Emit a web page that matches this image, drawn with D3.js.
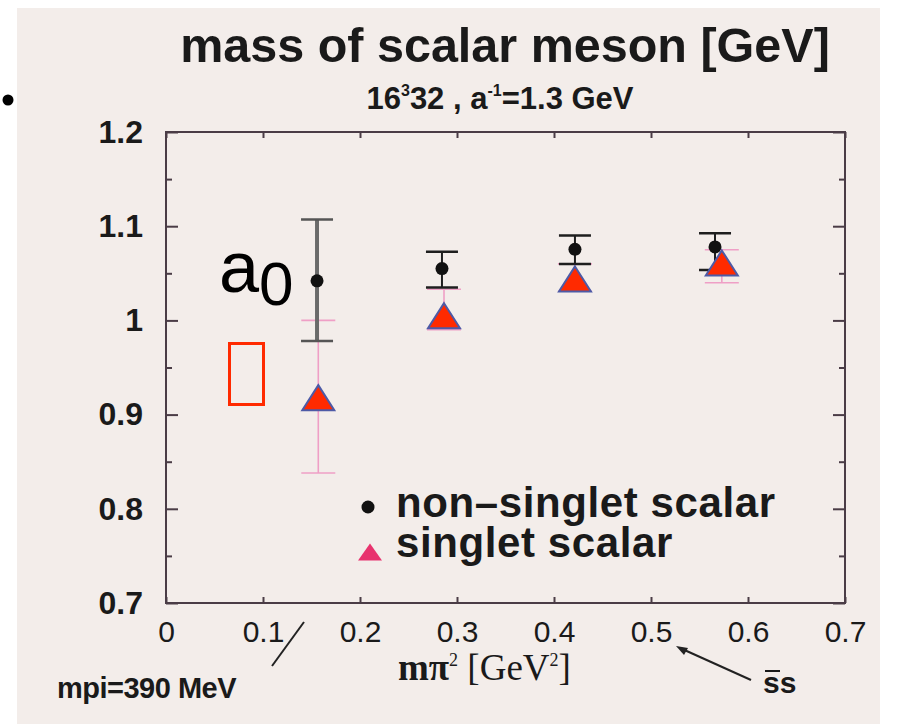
<!DOCTYPE html>
<html>
<head>
<meta charset="utf-8">
<script src="https://cdn.jsdelivr.net/npm/d3@7"></script>
<style>
  body { margin: 0; background: #fff; }
  svg { display: block; }
</style>
</head>
<body>
<svg id="chart" width="899" height="724"></svg>
<script>
// axis ticks
const xTicks = [0, 0.1, 0.2, 0.3, 0.4, 0.5, 0.6, 0.7];
const xTickLabels = ['0', '0.1', '0.2', '0.3', '0.4', '0.5', '0.6', '0.7'];
const yTicks = [0.7, 0.8, 0.9, 1.0, 1.1, 1.2];
const yTickLabels = ['0.7', '0.8', '0.9', '1', '1.1', '1.2'];
const yMinorTicks = [0.75, 0.85, 0.95, 1.05, 1.15];

// non-singlet scalar (black dots)
const nonSingletX = [0.1557, 0.2845, 0.4216, 0.566];
const nonSingletMass = [1.042, 1.055, 1.0755, 1.078];
const nonSingletHi = [1.107, 1.073, 1.090, 1.0925];
const nonSingletLo = [0.978, 1.035, 1.060, 1.0535];

// singlet scalar (triangles)
const singletX = [0.157, 0.2866, 0.4216, 0.573];
const singletMass = [0.918, 1.005, 1.044, 1.061];
const singletHi = [1.0, 1.033, 1.060, 1.075];
const singletLo = [0.838, 0.99, 1.031, 1.040];

const svg = d3.select('#chart');

const margin = { top: 132, right: 54, bottom: 121, left: 166 };
const width = 899 - margin.left - margin.right;
const height = 724 - margin.top - margin.bottom;

const x = d3.scaleLinear().domain([0, 0.7]).range([0, width]);
const y = d3.scaleLinear().domain([0.7, 1.2]).range([height, 0]);

// scanned paper background
svg.append('rect')
  .attr('x', 17).attr('y', 8)
  .attr('width', 863).attr('height', 716)
  .attr('fill', '#f3edea');

// slide bullet
svg.append('circle')
  .attr('cx', 8).attr('cy', 100).attr('r', 5.5)
  .attr('fill', '#000');

// titles
svg.append('text')
  .attr('x', 505).attr('y', 62)
  .attr('text-anchor', 'middle')
  .style('font-family', '"Liberation Sans", Arial, sans-serif')
  .style('font-weight', 'bold')
  .style('font-size', '48.5px')
  .attr('fill', '#1a1a1a')
  .text('mass of scalar meson [GeV]');

const sub = svg.append('text')
  .attr('x', 500).attr('y', 109)
  .attr('text-anchor', 'middle')
  .style('font-family', '"Liberation Sans", Arial, sans-serif')
  .style('font-weight', 'bold')
  .style('font-size', '31px')
  .attr('fill', '#1a1a1a');
sub.append('tspan').text('16');
sub.append('tspan').attr('dy', -13).style('font-size', '16px').text('3');
sub.append('tspan').attr('dy', 13).text('32 , a');
sub.append('tspan').attr('dy', -13).style('font-size', '16px').text('-1');
sub.append('tspan').attr('dy', 13).text('=1.3 GeV');

const g = svg.append('g')
  .attr('transform', `translate(${margin.left},${margin.top})`);

// axes
const axisColor = '#4a3c46';

g.append('g')
  .attr('class', 'axis')
  .call(d3.axisLeft(y).tickValues(yTicks).tickSize(-12).tickPadding(23)
    .tickFormat((d, i) => yTickLabels[i]))
  .call(a => a.selectAll('text')
    .style('font-family', '"Liberation Sans", Arial, sans-serif')
    .style('font-weight', 'bold')
    .style('font-size', '32px')
    .attr('fill', '#1a1a1a'));

g.append('g')
  .attr('class', 'axis')
  .call(d3.axisLeft(y).tickValues(yMinorTicks).tickSize(-6).tickFormat(''));

g.append('g')
  .attr('class', 'axis')
  .attr('transform', `translate(${width},0)`)
  .call(d3.axisRight(y).tickValues(yTicks).tickSize(-12).tickFormat(''));

g.append('g')
  .attr('class', 'axis')
  .attr('transform', `translate(${width},0)`)
  .call(d3.axisRight(y).tickValues(yMinorTicks).tickSize(-6).tickFormat(''));

g.append('g')
  .attr('class', 'axis')
  .attr('transform', `translate(0,${height})`)
  .call(d3.axisBottom(x).tickValues(xTicks).tickSize(-6).tickPadding(18)
    .tickFormat((d, i) => xTickLabels[i]))
  .call(a => a.selectAll('text')
    .style('font-family', '"Liberation Sans", Arial, sans-serif')
    .style('font-size', '30px')
    .attr('fill', '#1a1a1a'));

g.append('g')
  .attr('class', 'axis')
  .call(d3.axisTop(x).tickValues(xTicks).tickSize(-6).tickFormat(''));

g.selectAll('.axis .domain').remove();
g.selectAll('.axis line').attr('stroke', axisColor).attr('stroke-width', 2);

g.append('rect')
  .attr('width', width).attr('height', height)
  .attr('fill', 'none')
  .attr('stroke', axisColor)
  .attr('stroke-width', 2);

// singlet error bars (pink)
const pink = '#ef9fc6';
const capS = 17;
singletX.forEach((v, i) => {
  const cx = x(v);
  g.append('line')
    .attr('x1', cx).attr('x2', cx)
    .attr('y1', y(singletHi[i])).attr('y2', y(singletLo[i]))
    .attr('stroke', pink).attr('stroke-width', 1.6);
  [singletHi[i], singletLo[i]].forEach(e => {
    g.append('line')
      .attr('x1', cx - capS).attr('x2', cx + capS)
      .attr('y1', y(e)).attr('y2', y(e))
      .attr('stroke', pink).attr('stroke-width', 1.6);
  });
});

// non-singlet error bars (black; first one is grey and thick)
const capN = 16;
nonSingletX.forEach((v, i) => {
  const cx = x(v);
  const col = i === 0 ? '#6a6a6a' : '#1e1e1e';
  g.append('line')
    .attr('x1', cx).attr('x2', cx)
    .attr('y1', y(nonSingletHi[i])).attr('y2', y(nonSingletLo[i]))
    .attr('stroke', col).attr('stroke-width', i === 0 ? 4 : 2);
  [nonSingletHi[i], nonSingletLo[i]].forEach(e => {
    g.append('line')
      .attr('x1', cx - capN).attr('x2', cx + capN)
      .attr('y1', y(e)).attr('y2', y(e))
      .attr('stroke', i === 0 ? '#555' : '#1e1e1e').attr('stroke-width', 2.5);
  });
});

g.selectAll('circle.ns')
  .data(nonSingletX)
  .join('circle')
  .attr('class', 'ns')
  .attr('cx', d => x(d))
  .attr('cy', (d, i) => y(nonSingletMass[i]))
  .attr('r', 6.5)
  .attr('fill', '#111');

// triangle marker path, centred on the point
const tri = (cx, cy, w, h) =>
  `M${cx},${cy - h / 2}L${cx + w / 2},${cy + h / 2}L${cx - w / 2},${cy + h / 2}Z`;

g.selectAll('path.s')
  .data(singletX)
  .join('path')
  .attr('class', 's')
  .attr('d', (d, i) => tri(x(d), y(singletMass[i]), 32, 25))
  .attr('fill', '#ff2a00')
  .attr('stroke', '#4d5aa6')
  .attr('stroke-width', 2)
  .attr('stroke-linejoin', 'miter');

// legend
svg.append('circle')
  .attr('cx', 368).attr('cy', 507).attr('r', 6.5)
  .attr('fill', '#111');
svg.append('path')
  .attr('d', tri(370, 552, 24, 17))
  .attr('fill', '#e8336e');

svg.append('text')
  .attr('x', 396).attr('y', 517)
  .style('font-family', '"Liberation Sans", Arial, sans-serif')
  .style('font-weight', 'bold')
  .style('font-size', '42px')
  .style('letter-spacing', '0.6px')
  .attr('fill', '#1a1a1a')
  .text('non\u2013singlet scalar');

svg.append('text')
  .attr('x', 396).attr('y', 557)
  .style('font-family', '"Liberation Sans", Arial, sans-serif')
  .style('font-weight', 'bold')
  .style('font-size', '42px')
  .style('letter-spacing', '0.6px')
  .attr('fill', '#1a1a1a')
  .text('singlet scalar');

// x-axis title
const xt = svg.append('text')
  .attr('x', 398).attr('y', 680)
  .style('font-family', '"Liberation Serif", "Times New Roman", serif')
  .style('font-size', '37px')
  .attr('fill', '#1a1a1a');
xt.append('tspan').style('font-weight', 'bold').text('m\u03C0');
xt.append('tspan').attr('dy', -14).style('font-size', '18px').text('2');
xt.append('tspan').attr('dy', 14).text(' [GeV');
xt.append('tspan').attr('dy', -14).style('font-size', '18px').text('2');
xt.append('tspan').attr('dy', 14).text(']');

// annotations
svg.append('text')
  .attr('x', 57).attr('y', 698)
  .style('font-family', '"Liberation Sans", Arial, sans-serif')
  .style('font-weight', 'bold')
  .style('font-size', '29px')
  .style('letter-spacing', '-0.5px')
  .attr('fill', '#1a1a1a')
  .text('mpi=390 MeV');

svg.append('line')
  .attr('x1', 304).attr('y1', 622).attr('x2', 272).attr('y2', 666)
  .attr('stroke', '#222').attr('stroke-width', 2);

svg.append('line')
  .attr('x1', 680).attr('y1', 648).attr('x2', 751).attr('y2', 680)
  .attr('stroke', '#222').attr('stroke-width', 2);
svg.append('path')
  .attr('d', 'M676,646L688,648L684,655Z')
  .attr('fill', '#222');

svg.append('text')
  .attr('x', 763).attr('y', 693)
  .style('font-family', '"Liberation Sans", Arial, sans-serif')
  .style('font-weight', 'bold')
  .style('font-size', '30px')
  .attr('fill', '#1a1a1a')
  .text('ss');
svg.append('line')
  .attr('x1', 765).attr('y1', 671).attr('x2', 780).attr('y2', 671)
  .attr('stroke', '#1a1a1a').attr('stroke-width', 2);

// slide overlay: a0 label and red box
const a0 = svg.append('text')
  .attr('x', 219).attr('y', 292)
  .style('font-family', '"Liberation Sans", Arial, sans-serif')
  .attr('fill', '#000');
a0.append('tspan').style('font-size', '72px').text('a');
a0.append('tspan').attr('dy', 13).style('font-size', '62px').text('0');

svg.append('rect')
  .attr('x', 229.5).attr('y', 343.5)
  .attr('width', 34).attr('height', 61)
  .attr('fill', 'none')
  .attr('stroke', '#ff2a00')
  .attr('stroke-width', 3);
</script>
</body>
</html>
